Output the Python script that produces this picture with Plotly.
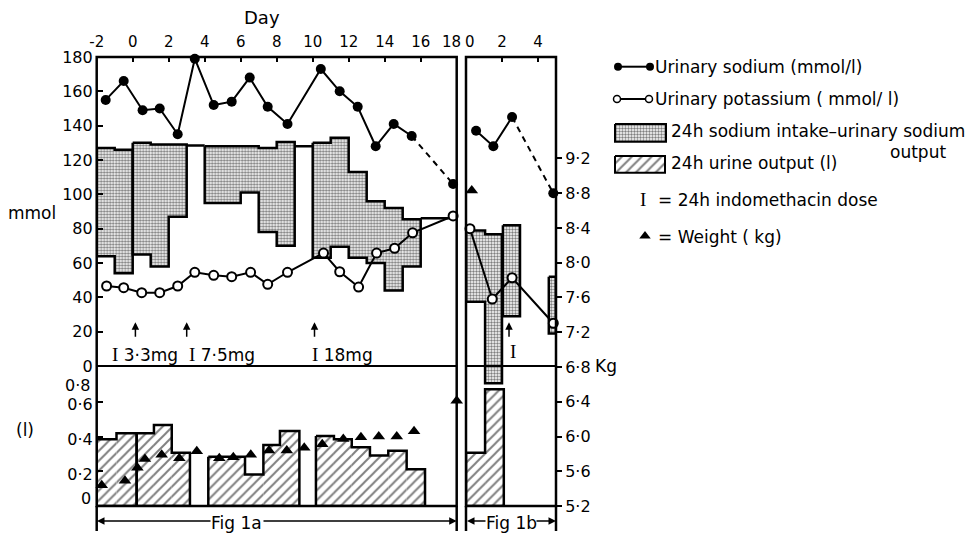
import plotly.graph_objects as go

W, H = 970, 537
def PX(x): return x / W
def PY(y): return 1 - y / H

# ---------------- data ----------------
# Fig 1a (days -2..18)
na_a_day = [-1.5, -0.5, 0.55, 1.5, 2.5, 3.45, 4.5, 5.5, 6.5, 7.5, 8.6, 10.45, 11.5, 12.5, 13.5, 14.5, 15.5, 17.8]
na_a_val = [155, 166, 149, 150, 135, 179, 152, 154, 168, 151, 141, 173, 160, 151, 128, 141, 134, 106]
na_a_dash_from = 16          # index where the dashed part starts

k_a_day = [-1.45, -0.5, 0.5, 1.5, 2.5, 3.45, 4.5, 5.5, 6.55, 7.5, 8.6, 10.6, 11.5, 12.55, 13.55, 14.55, 15.55, 17.8]
k_a_val = [46.6, 45.6, 42.7, 42.7, 46.6, 54.6, 52.8, 52.0, 54.6, 47.6, 54.6, 65.8, 54.9, 46.0, 65.8, 68.6, 77.6, 87.4]

wt_a_day = [-1.72, -0.43, 0.26, 0.68, 1.61, 2.59, 3.56, 4.81, 5.59, 6.56, 7.57, 8.56, 9.53, 10.53, 11.7, 12.68, 13.67, 14.67, 15.63, 18.0]
wt_a_val = [5.44, 5.49, 5.64, 5.74, 5.79, 5.75, 5.83, 5.75, 5.76, 5.79, 5.84, 5.84, 5.87, 5.91, 5.97, 5.99, 6.00, 6.00, 6.06, 6.41]

stip_a_start = [-2, -1, 0, 1, 2, 4, 6, 7, 8, 10, 11, 12, 13, 14, 15]
stip_a_end   = [-1, 0, 1, 2, 3, 6, 7, 8, 9, 11, 12, 13, 14, 15, 16]
stip_a_low   = [64, 54, 65, 58, 87, 95, 101, 78, 70, 63, 69.5, 63, 60, 44, 58]
stip_a_high  = [127, 126, 130, 129, 129, 128, 128, 127, 130.5, 130, 133, 113, 96, 92, 85.5]
stip_a_block = [0, 0, 1, 1, 1, 2, 2, 2, 2, 3, 3, 3, 3, 3, 3]

intake_a_start = [3, 9, 16]
intake_a_end   = [4, 10, 18]
intake_a_val   = [128.5, 128, 86]

hatch_a_start = [-2, -0.9, 0.22, 1.18, 2.17, 4.2, 6.24, 7.26, 8.18, 10.18, 11.18, 12.17, 13.18, 14.2, 15.22]
hatch_a_end   = [-0.9, 0.22, 1.18, 2.17, 3.18, 6.24, 7.26, 8.18, 9.26, 11.18, 12.17, 13.18, 14.2, 15.22, 16.24]
hatch_a_val   = [0.384, 0.418, 0.418, 0.466, 0.307, 0.284, 0.182, 0.351, 0.432, 0.403, 0.384, 0.338, 0.29, 0.318, 0.211]
hatch_a_block = [0, 0, 1, 1, 1, 2, 2, 2, 2, 3, 3, 3, 3, 3, 3]

dose_a_day = [0.15, 3.0, 10.1]
dose_a_text = ["3·3mg", "7·5mg", "18mg"]

# Fig 1b (days 0..5)
na_b_day = [0.56, 1.52, 2.56, 4.85]
na_b_val = [137, 128, 145, 100.6]
na_b_dash_from = 2

k_b_day = [0.22, 1.46, 2.56, 4.85]
k_b_val = [80, 39, 51.4, 24.9]

wt_b_day = [0.32]
wt_b_val = [8.83]

stip_b_start = [0, 1.06, 2.05, 4.6]
stip_b_end   = [1.06, 2.0, 3.0, 5.0]
stip_b_low   = [37.5, -10, 29, 19]
stip_b_high  = [79, 76.7, 82, 52]
stip_b_block = [0, 0, 1, 2]

hatch_b_start = [0, 1.06]
hatch_b_end   = [1.06, 2.1]
hatch_b_val   = [0.307, 0.672]
hatch_b_block = [0, 0]

dose_b_day = [2.39]

day_a_ticks = list(range(-2, 19, 2))
day_b_ticks = [0, 2, 4]
mmol_ticks = list(range(0, 181, 20))
litre_ticks = [0.2, 0.4, 0.6]
litre_text = ["0·2", "0·4", "0·6"]
kg_ticks = [5.2, 5.6, 6.0, 6.4, 6.8, 7.2, 7.6, 8.0, 8.4, 8.8, 9.2]
kg_text = [f"{v:.1f}".replace(".", "·") for v in kg_ticks]

FONT = "DejaVu Sans"
SERIF = "Liberation Serif"
LW = 2.5

STIP = dict(shape=".", fgcolor="black", bgcolor="white", size=3, solidity=0.5)
HATCH = dict(shape="/", fgcolor="black", bgcolor="white", size=7, solidity=0.28)

fig = go.Figure()

def add_bars(start, end, low, high, pattern, xa, ya):
    fig.add_trace(go.Bar(
        x=[(s + e) / 2 for s, e in zip(start, end)],
        width=[e - s for s, e in zip(start, end)],
        base=low, y=[h - l for h, l in zip(high, low)],
        marker=dict(color="white", line=dict(width=0), pattern=pattern),
        xaxis=xa, yaxis=ya, hoverinfo="skip"))

def add_outline(start, end, low, high, block, xa, ya):
    xs, ys = [], []
    for b in sorted(set(block)):
        idx = [i for i in range(len(block)) if block[i] == b]
        bx, by = [], []
        for i in idx:
            bx += [start[i], end[i]]; by += [high[i], high[i]]
        for i in reversed(idx):
            bx += [end[i], start[i]]; by += [low[i], low[i]]
        bx.append(bx[0]); by.append(by[0])
        xs += bx + [None]; ys += by + [None]
    fig.add_trace(go.Scatter(x=xs, y=ys, mode="lines", line=dict(color="black", width=LW),
                             xaxis=xa, yaxis=ya, hoverinfo="skip", cliponaxis=False))

# stippled sodium balance bars
add_bars(stip_a_start, stip_a_end, stip_a_low, stip_a_high, STIP, "x", "y")
add_bars(stip_b_start, stip_b_end, stip_b_low, stip_b_high, STIP, "x2", "y")
# hatched urine output bars
add_bars(hatch_a_start, hatch_a_end, [0] * len(hatch_a_val), hatch_a_val, HATCH, "x", "y2")
add_bars(hatch_b_start, hatch_b_end, [0] * len(hatch_b_val), hatch_b_val, HATCH, "x2", "y2")

add_outline(stip_a_start, stip_a_end, stip_a_low, stip_a_high, stip_a_block, "x", "y")
add_outline(stip_b_start, stip_b_end, stip_b_low, stip_b_high, stip_b_block, "x2", "y")
add_outline(hatch_a_start, hatch_a_end, [0] * len(hatch_a_val), hatch_a_val, hatch_a_block, "x", "y2")
add_outline(hatch_b_start, hatch_b_end, [0] * len(hatch_b_val), hatch_b_val, hatch_b_block, "x2", "y2")

# intake-only lines in gaps
gx, gy = [], []
for s, e, v in zip(intake_a_start, intake_a_end, intake_a_val):
    gx += [s, e, None]; gy += [v, v, None]
fig.add_trace(go.Scatter(x=gx, y=gy, mode="lines", line=dict(color="black", width=LW),
                         xaxis="x", yaxis="y", hoverinfo="skip"))

def add_series(days, vals, dash_from, filled, xa):
    n = len(days) if dash_from is None else dash_from + 1
    mk = dict(symbol="circle", size=10, color="black") if filled else \
        dict(symbol="circle", size=9, color="white", line=dict(color="black", width=2))
    if dash_from is not None:
        fig.add_trace(go.Scatter(x=days[dash_from:], y=vals[dash_from:], mode="lines",
                                 line=dict(color="black", width=2, dash="6px,5px"),
                                 xaxis=xa, yaxis="y", hoverinfo="skip"))
    fig.add_trace(go.Scatter(x=days[:n], y=vals[:n], mode="lines", line=dict(color="black", width=2),
                             xaxis=xa, yaxis="y", hoverinfo="skip"))
    fig.add_trace(go.Scatter(x=days, y=vals, mode="markers", marker=mk,
                             xaxis=xa, yaxis="y", hoverinfo="skip", cliponaxis=False))

add_series(k_a_day, k_a_val, None, False, "x")
add_series(na_a_day, na_a_val, na_a_dash_from, True, "x")
add_series(k_b_day, k_b_val, None, False, "x2")
add_series(na_b_day, na_b_val, na_b_dash_from, True, "x2")

for d, v, xa in [(wt_a_day, wt_a_val, "x"), (wt_b_day, wt_b_val, "x2")]:
    fig.add_trace(go.Scatter(x=d, y=v, mode="markers",
                             marker=dict(symbol="triangle-up", size=11, color="black"),
                             xaxis=xa, yaxis="y3", hoverinfo="skip", cliponaxis=False))

# ---------------- legend (own hidden axis in pixel units) ----------------
fig.add_trace(go.Scatter(x=[618, 650], y=[66.7, 66.7], mode="lines+markers",
                         line=dict(color="black", width=2), marker=dict(size=8, color="black"),
                         xaxis="x3", yaxis="y4", hoverinfo="skip"))
fig.add_trace(go.Scatter(x=[617, 649], y=[99, 99], mode="lines+markers",
                         line=dict(color="black", width=2),
                         marker=dict(size=7, color="white", line=dict(color="black", width=1.5)),
                         xaxis="x3", yaxis="y4", hoverinfo="skip"))
for (x0, x1, y0, y1), pat in [((615, 666, 124, 141.7), STIP), ((615, 665, 156, 172.7), HATCH)]:
    fig.add_trace(go.Scatter(x=[x0, x1, x1, x0, x0], y=[y0, y0, y1, y1, y0], mode="lines",
                             fill="toself", fillcolor="white", fillpattern=pat,
                             line=dict(color="black", width=2),
                             xaxis="x3", yaxis="y4", hoverinfo="skip"))
fig.add_trace(go.Scatter(x=[645], y=[236], mode="markers",
                         marker=dict(symbol="triangle-up", size=10, color="black"),
                         xaxis="x3", yaxis="y4", hoverinfo="skip"))

ann = []
def txt(x, y, t, size=17, xanchor="center", xref="paper", yref="paper", family=FONT):
    ann.append(dict(x=PX(x) if xref == "paper" else x, y=PY(y) if yref == "paper" else y,
                    xref=xref, yref=yref, text=t, showarrow=False, xanchor=xanchor, yanchor="middle",
                    font=dict(family=family, size=size, color="black")))

for x, y, t in [(653, 66.7, "Urinary sodium (mmol/l)"), (653, 99, "Urinary potassium ( mmol/ l)"),
                (669, 131, "24h sodium intake–urinary sodium"), (669, 163, "24h urine output (l)"),
                (656, 200, "= 24h indomethacin dose"), (656, 236.7, "= Weight ( kg)")]:
    txt(x, y, t, xanchor="left", xref="x3", yref="y4")
txt(918, 152, "output", xref="x3", yref="y4")
txt(643, 199, "I", size=19, xref="x3", yref="y4", family=SERIF)

# axis titles and extra labels
txt(262, 18, "Day", size=18)
txt(32, 213, "mmol")
txt(25, 430, "(l)")
txt(593, 366, "Kg", xanchor="left")
txt(92, 385, "0·8", size=16, xanchor="right")
txt(93, 498, "0", size=16, xanchor="right")
# crowded top labels at the junction of the two panels
txt(451, 42, str(day_a_ticks[-1]), size=15)
txt(469.5, 42, str(day_b_ticks[0]), size=15)

# indomethacin doses
SER = "<span style='font-family:Liberation Serif;font-size:19px'>I</span>"
for d in dose_a_day:
    ann.append(dict(x=d, y=25.5, xref="x", yref="y", ax=0, ay=16, showarrow=True, text="",
                    arrowhead=2, arrowsize=1, arrowwidth=1.5, arrowcolor="black"))
for t, x_lab in zip(dose_a_text, [110, 187, 310]):
    txt(x_lab, 354, SER + " " + t, xanchor="left")
for d in dose_b_day:
    ann.append(dict(x=d, y=25.5, xref="x2", yref="y", ax=0, ay=16, showarrow=True, text="",
                    arrowhead=2, arrowsize=1, arrowwidth=1.5, arrowcolor="black"))
txt(513, 351, "I", size=19, family=SERIF)

# Fig labels with arrows
for head, tail in [(97, 212), (456.7, 262), (467, 487), (556, 535)]:
    ann.append(dict(x=PX(head), y=PY(521), xref="paper", yref="paper", ax=tail - head, ay=0,
                    showarrow=True, text="", arrowhead=2, arrowsize=1, arrowwidth=1.5,
                    arrowcolor="black", standoff=0))
txt(236, 523, "Fig 1a")
txt(511, 523, "Fig 1b")

# frames
shapes = []
for xa, ya in [("x", "y"), ("x2", "y")]:
    shapes.append(dict(type="rect", xref=f"{xa} domain", yref=f"{ya} domain", x0=0, x1=1, y0=0, y1=1,
                       line=dict(color="black", width=LW), fillcolor="rgba(0,0,0,0)", layer="above"))
    shapes.append(dict(type="line", xref=f"{xa} domain", yref="y", x0=0, x1=1, y0=0, y1=0,
                       line=dict(color="black", width=2), layer="above"))
    for xe in [0, 1]:
        shapes.append(dict(type="line", xref=f"{xa} domain", yref="paper", x0=xe, x1=xe,
                           y0=PY(506), y1=PY(531), line=dict(color="black", width=LW)))

ydom = [PY(506), PY(57)]
common = dict(showgrid=False, zeroline=False, showline=False, tickcolor="black", automargin=False,
              tickfont=dict(family=FONT, size=16, color="black"))
top_common = dict(common, tickfont=dict(family=FONT, size=15, color="black"))

fig.update_layout(
    width=W, height=H, margin=dict(l=0, r=0, t=0, b=0, pad=0, autoexpand=False),
    paper_bgcolor="white", plot_bgcolor="white", showlegend=False, barmode="overlay",
    font=dict(family=FONT, size=17, color="black"),
    xaxis=dict(domain=[PX(96.7), PX(456.7)], range=[-2, 18], side="top", anchor="y",
               tickvals=day_a_ticks,
               ticktext=[("" if v == day_a_ticks[-1] else str(v)) for v in day_a_ticks],
               ticks="inside", ticklen=5, tickwidth=2, ticklabelstandoff=6, **top_common),
    xaxis2=dict(domain=[PX(466), PX(556)], range=[0, 5], side="top", anchor="y",
                tickvals=day_b_ticks,
                ticktext=[("" if v == day_b_ticks[0] else str(v)) for v in day_b_ticks],
                ticks="inside", ticklen=5, tickwidth=2, ticklabelstandoff=6, **top_common),
    yaxis=dict(domain=ydom, range=[-81.553, 180], anchor="x", side="left",
               tickvals=mmol_ticks, ticks="inside", ticklen=6, tickwidth=2, ticklabelstandoff=3, **common),
    yaxis2=dict(range=[0, 2.5842], overlaying="y", anchor="x", side="left",
                tickvals=litre_ticks, ticktext=litre_text, ticks="inside", ticklen=6, tickwidth=2,
                ticklabelstandoff=3, ticklabelshift=3, **common),
    yaxis3=dict(range=[5.2, 10.368], overlaying="y", anchor="x2", side="right",
                tickvals=kg_ticks, ticktext=kg_text, ticks="outside", ticklen=5, tickwidth=2,
                ticklabelstandoff=0, **common),
    xaxis3=dict(domain=[PX(600), 1], range=[600, 970], visible=False, anchor="y4", fixedrange=True),
    yaxis4=dict(domain=[PY(260), PY(40)], range=[260, 40], visible=False, anchor="x3", fixedrange=True),
    annotations=ann, shapes=shapes,
)

fig.write_html("out.html", config={"displayModeBar": False},
               post_script="document.body.style.margin='0px';")
